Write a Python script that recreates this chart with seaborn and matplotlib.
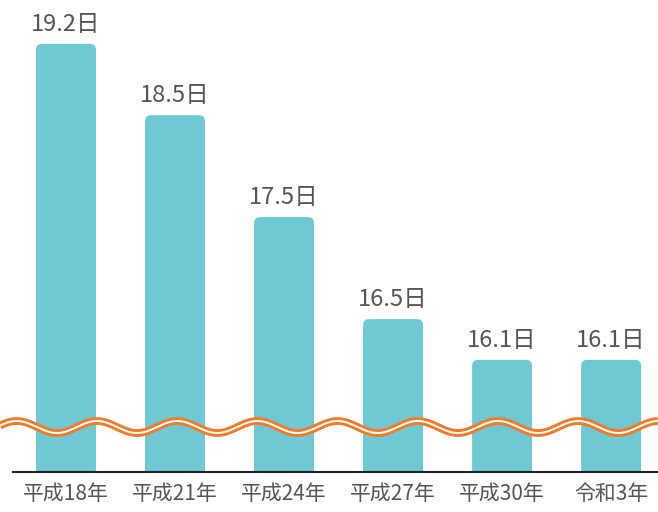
import numpy as np
import pandas as pd
import matplotlib
matplotlib.use("Agg")
import matplotlib.pyplot as plt
import seaborn as sns
from matplotlib.patches import FancyBboxPatch

categories = ["平成18年", "平成21年", "平成24年", "平成27年", "平成30年", "令和3年"]
values = [19.2, 18.5, 17.5, 16.5, 16.1, 16.1]
value_labels = ["19.2日", "18.5日", "17.5日", "16.5日", "16.1日", "16.1日"]

sns.set_theme(style="white")
plt.rcParams["font.family"] = ["Noto Sans CJK JP", "DejaVu Sans"]

BAR = "#6fc9d5"
ORANGE = "#f07c2a"
TEXT = "#555555"

W, H = 658, 512
fig = plt.figure(figsize=(W / 100, H / 100), dpi=100)
ax = fig.add_axes([13 / W, 40 / H, 645 / W, 472 / H])

df = pd.DataFrame({"cat": categories, "val": values})
sns.barplot(data=df, x="cat", y="val", color=BAR, width=0.55, saturation=1,
            ax=ax, order=categories)

ax.set_xlim(-0.486, 5.43)
ax.set_ylim(15.0, 19.63)

# replace bars by rounded-top bars
fig.canvas.draw()
px_per_x = ax.transData.transform((1, 0))[0] - ax.transData.transform((0, 0))[0]
px_per_y = ax.transData.transform((0, 1))[1] - ax.transData.transform((0, 0))[1]
r_px = 6
rx = r_px / px_per_x
aspect = (r_px / px_per_y) / rx
for p in list(ax.patches):
    x0 = p.get_x()
    w = p.get_width()
    h = p.get_height()
    p.remove()
    fb = FancyBboxPatch((x0, 14.0), w, h - 14.0,
                        boxstyle=f"round,pad=0,rounding_size={rx}",
                        mutation_aspect=aspect, facecolor=BAR, edgecolor="none",
                        zorder=2)
    ax.add_patch(fb)

for i, (v, lab) in enumerate(zip(values, value_labels)):
    ax.annotate(lab, (i, v), xytext=(0, 6), textcoords="offset points",
                ha="center", va="bottom", fontsize=17, color=TEXT)

# wavy break line across figure
xs = np.linspace(0, W, 1000)
ys = 427 - 6 * np.cos(2 * np.pi * (xs - 97) / 80.2)
fx = xs / W
fy = (H - ys) / H
ax.plot(fx, fy, transform=fig.transFigure, color=ORANGE, lw=5.6,
        solid_capstyle="butt", clip_on=False, zorder=5)
ax.plot(fx, fy, transform=fig.transFigure, color="white", lw=1.4,
        solid_capstyle="butt", clip_on=False, zorder=6)

ax.set_xlabel("")
ax.set_ylabel("")
ax.set_yticks([])
for s in ["top", "right", "left"]:
    ax.spines[s].set_visible(False)
ax.spines["bottom"].set_color("#222222")
ax.spines["bottom"].set_linewidth(1.5)
ax.tick_params(axis="x", length=0, pad=8, labelsize=15, labelcolor=TEXT)
ax.set_facecolor("white")
fig.patch.set_facecolor("white")

fig.savefig("out.png", dpi=100)
